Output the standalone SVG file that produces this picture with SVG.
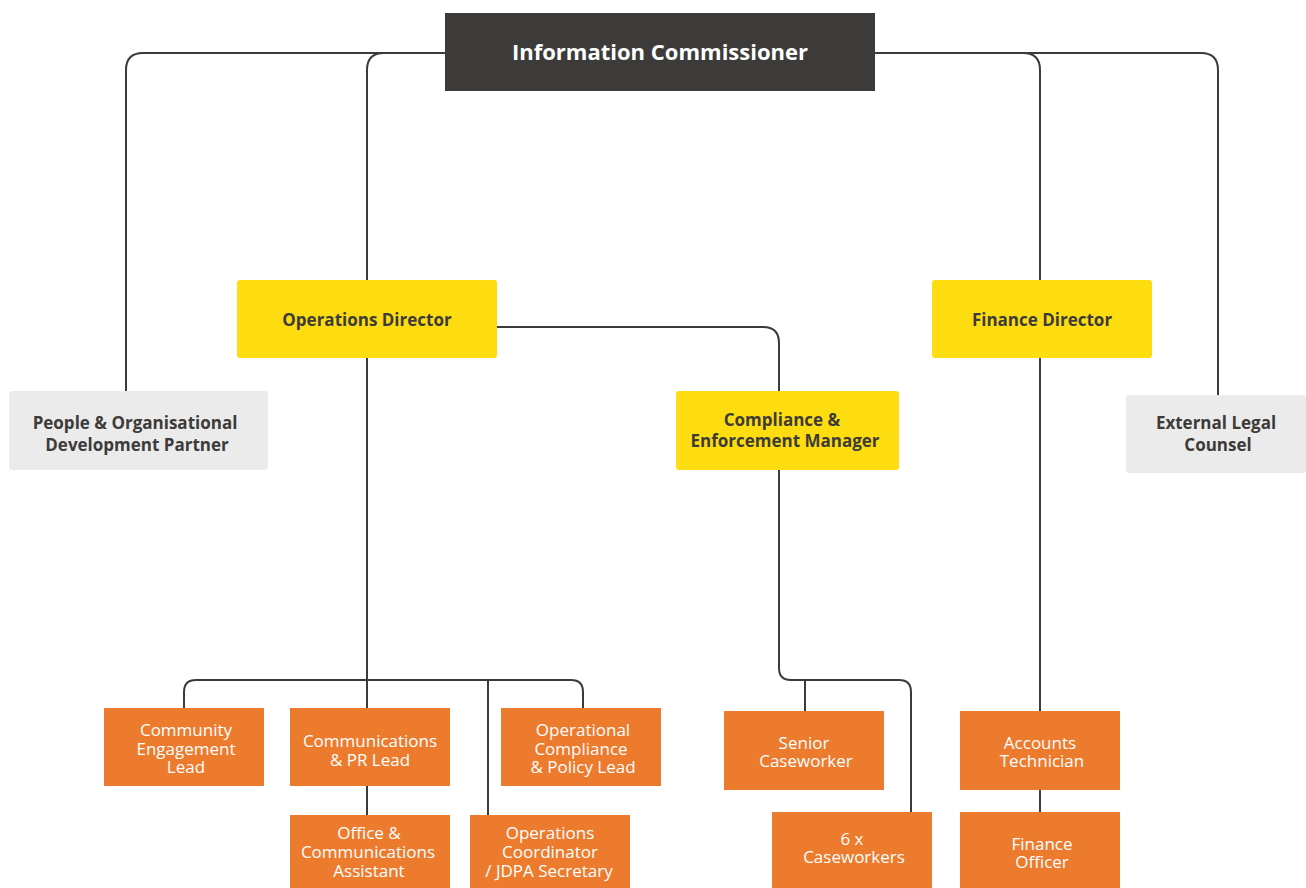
<svg xmlns="http://www.w3.org/2000/svg" width="1306" height="888" viewBox="0 0 1306 888">
<style>
text{font-family:"Open Sans","Noto Sans","Liberation Sans",sans-serif;text-anchor:middle}
.dk{fill:#3d3b39}
.yl{fill:#fedd10}
.gy{fill:#ebebeb}
.or{fill:#ed7b2e}
.t1{font-size:22px;font-weight:700;fill:#ffffff}
.t2{font-size:17px;font-weight:700;fill:#3d3b39}
.t3{font-size:17px;font-weight:400;fill:#ffffff}
.ln{fill:none;stroke:#3d3b39;stroke-width:2}
</style>
<g id="connectors" class="ln">
<path d="M445 53 H143 Q126 53 126 70 V391"/>
<path d="M445 53 H384 Q367 53 367 70 V280"/>
<path d="M875 53 H1023 Q1040 53 1040 70 V280"/>
<path d="M875 53 H1201 Q1218 53 1218 70 V395"/>
<path d="M497 327 H763 Q779 327 779 343 V391"/>
<path d="M367 358 V708"/>
<path d="M184 708 V692 Q184 680 196 680 H571 Q583 680 583 692 V708"/>
<path d="M488 680 V815"/>
<path d="M367 786 V815"/>
<path d="M779 470 V668 Q779 680 791 680 H899 Q911 680 911 692 V812"/>
<path d="M805 680 V711"/>
<path d="M1040 358 V711"/>
<path d="M1040 790 V812"/>
</g>
<g id="n-commissioner"><rect class="dk" x="445" y="13" width="430" height="78"/><text class="t1" x="660" y="60">Information Commissioner</text></g>
<g id="n-opsdir"><rect class="yl" x="237" y="280" width="260" height="78" rx="3"/><text class="t2" x="367" y="326">Operations Director</text></g>
<g id="n-findir"><rect class="yl" x="932" y="280" width="220" height="78" rx="3"/><text class="t2" x="1042" y="326">Finance Director</text></g>
<g id="n-people"><rect class="gy" x="9" y="391" width="259" height="79" rx="3"/><text class="t2"><tspan x="135" y="429">People &amp; Organisational</tspan><tspan x="137" y="451">Development Partner</tspan></text></g>
<g id="n-compliance"><rect class="yl" x="676" y="391" width="223" height="79" rx="3"/><text class="t2"><tspan x="782" y="426">Compliance &amp;</tspan><tspan x="785" y="447">Enforcement Manager</tspan></text></g>
<g id="n-legal"><rect class="gy" x="1126" y="395" width="180" height="78" rx="3"/><text class="t2"><tspan x="1216" y="429">External Legal</tspan><tspan x="1218" y="451">Counsel</tspan></text></g>
<g id="n-community"><rect class="or" x="104" y="708" width="160" height="78"/><text class="t3"><tspan x="186" y="736">Community</tspan><tspan x="186" y="755">Engagement</tspan><tspan x="186" y="773">Lead</tspan></text></g>
<g id="n-commspr"><rect class="or" x="290" y="708" width="160" height="78"/><text class="t3"><tspan x="370" y="747">Communications</tspan><tspan x="370" y="766">&amp; PR Lead</tspan></text></g>
<g id="n-opcompliance"><rect class="or" x="501" y="708" width="160" height="78"/><text class="t3"><tspan x="583" y="736">Operational</tspan><tspan x="581" y="755">Compliance</tspan><tspan x="583" y="773">&amp; Policy Lead</tspan></text></g>
<g id="n-office"><rect class="or" x="290" y="815" width="160" height="73"/><text class="t3"><tspan x="369" y="839">Office &amp;</tspan><tspan x="368" y="858">Communications</tspan><tspan x="369" y="877">Assistant</tspan></text></g>
<g id="n-opscoord"><rect class="or" x="470" y="815" width="160" height="73"/><text class="t3"><tspan x="550" y="839">Operations</tspan><tspan x="550" y="858">Coordinator</tspan><tspan x="549" y="877">/ JDPA Secretary</tspan></text></g>
<g id="n-senior"><rect class="or" x="724" y="711" width="160" height="79"/><text class="t3"><tspan x="804" y="749">Senior</tspan><tspan x="806" y="767">Caseworker</tspan></text></g>
<g id="n-caseworkers"><rect class="or" x="772" y="812" width="160" height="76"/><text class="t3"><tspan x="852" y="845">6 x</tspan><tspan x="854" y="863">Caseworkers</tspan></text></g>
<g id="n-accounts"><rect class="or" x="960" y="711" width="160" height="79"/><text class="t3"><tspan x="1040" y="749">Accounts</tspan><tspan x="1042" y="767">Technician</tspan></text></g>
<g id="n-finofficer"><rect class="or" x="960" y="812" width="160" height="76"/><text class="t3"><tspan x="1042" y="850">Finance</tspan><tspan x="1042" y="868">Officer</tspan></text></g>
</svg>
